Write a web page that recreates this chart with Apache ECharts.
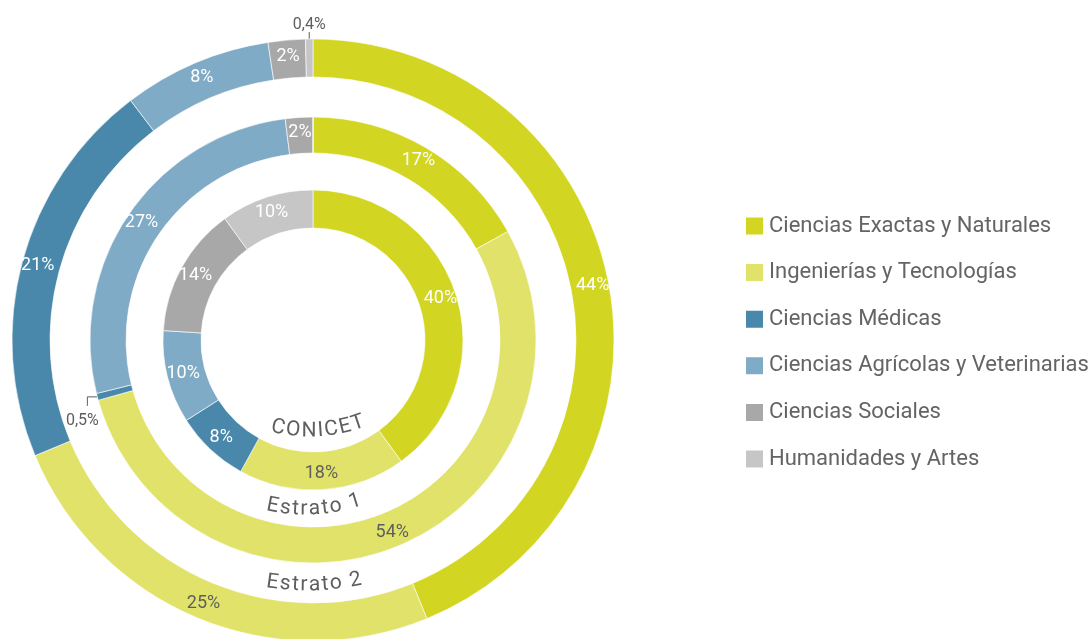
<!DOCTYPE html>
<html>
<head>
<meta charset="utf-8">
<script src="https://cdn.jsdelivr.net/npm/echarts@6/dist/echarts.min.js"></script>
<style>
  html,body{margin:0;padding:0;background:#fff;}
  #chart{width:1091px;height:639px;}
</style>
</head>
<body>
<div id="chart"></div>
<script>
(function(){
  // categorías y valores (%) de cada anillo
  const CATEGORIES = ['Ciencias Exactas y Naturales','Ingenierías y Tecnologías','Ciencias Médicas',
    'Ciencias Agrícolas y Veterinarias','Ciencias Sociales','Humanidades y Artes'];
  const CONICET   = [40, 18, 8, 10, 14, 10];
  const ESTRATO_1 = [17, 54, 0.5, 27, 2, 0];
  const ESTRATO_2 = [44, 25, 21, 8, 2, 0.4];
  const RING_NAMES = ['CONICET','Estrato 1','Estrato 2'];

  const COLORS = ['#d2d622','#e0e26a','#4a88ab','#80abc6','#a8a8a8','#c6c6c6'];
  const DARK = '#5e5e5e';
  const FONT = 'Roboto, "Noto Sans", sans-serif';
  const CX = 313, CY = 340;

  const fmtPct = v => String(v).replace('.', ',') + '%';

  function ring(name, values, radius){
    return {
      type:'pie', name, center:[CX, CY], radius, startAngle:90, clockwise:true,
      avoidLabelOverlap:false, silent:true,
      itemStyle:{borderColor:'#fff', borderWidth:0.6},
      label:{show:true, position:'inside', formatter:p=>fmtPct(p.value), color:'#fff', fontSize:18, fontFamily:FONT},
      labelLine:{show:false},
      data: values.map((v,i)=>{
        const d = {name:CATEGORIES[i], value:v, itemStyle:{color:COLORS[i]}};
        if(i===1) d.label = {color:DARK};
        if(v===0) d.label = {show:false};
        if(v>0 && v<1){
          d.label = {show:true, position:'outside', color:DARK, fontSize:16};
          d.labelLine = {show:true, length:8, length2:0, lineStyle:{color:DARK, width:1}};
        }
        return d;
      }),
      labelLayout: p=>{
        const v = values[p.dataIndex];
        if(!(v>0 && v<1) || !p.labelLinePoints) return {};
        const p0 = p.labelLinePoints[0];
        if(p0[1] < CY){ // arriba: línea vertical y texto encima
          return {x:p0[0], y:p0[1]-6, align:'center', verticalAlign:'bottom',
            labelLinePoints:[[p0[0], p0[1]+3], [p0[0], p0[1]-7], [p0[0], p0[1]-7]]};
        }
        return {x:p0[0]-15, y:p0[1]+16, align:'center', verticalAlign:'top',
          labelLinePoints:[p0, [p0[0]-10, p0[1]], [p0[0]-10, p0[1]+9]]};
      }
    };
  }

  // texto curvo: cada letra sobre un arco (dx,dy desde el centro, radio de curvatura, inclinación)
  const ARC_LABELS = [
    {text:RING_NAMES[0], dx:5, dy:91, R:150, tilt:3, size:21, gap:1.2},
    {text:RING_NAMES[1], dx:1, dy:169, R:170, tilt:3, size:21, gap:1.4},
    {text:RING_NAMES[2], dx:1, dy:245, R:250, tilt:1.5, size:21, gap:1.4}
  ];

  function arcText(l){
    const ctx = document.createElement('canvas').getContext('2d');
    ctx.font = `${l.size}px ${FONT}`;
    const chars = l.text.split('');
    const ws = chars.map(c=>ctx.measureText(c).width);
    const W = ws.reduce((a,b)=>a+b,0) + l.gap*(chars.length-1);
    const t0 = l.tilt*Math.PI/180;
    const mx = CX + l.dx, my = CY + l.dy;
    const ox = mx - l.R*Math.sin(t0), oy = my - l.R*Math.cos(t0);
    let s = -W/2;
    return chars.map((c,i)=>{
      const sc = s + ws[i]/2; s += ws[i] + l.gap;
      const t = t0 + sc/l.R;
      return {type:'text', x:ox + l.R*Math.sin(t), y:oy + l.R*Math.cos(t), rotation:t, silent:true,
        style:{text:c, fill:DARK, font:`${l.size}px ${FONT}`, textAlign:'center', textVerticalAlign:'middle'}};
    });
  }

  const chart = echarts.init(document.getElementById('chart'));
  chart.setOption({
    animation:false,
    color:COLORS,
    legend:{orient:'vertical', left:739, top:210, itemWidth:19, itemHeight:19, itemGap:24.6,
      icon:'rect', selectedMode:false, data:CATEGORIES,
      textStyle:{color:'#646464', fontSize:22, fontFamily:FONT, lineHeight:22}},
    series:[
      ring(RING_NAMES[0], CONICET, [112,150]),
      ring(RING_NAMES[1], ESTRATO_1, [187,223]),
      ring(RING_NAMES[2], ESTRATO_2, [263,301])
    ],
    graphic: ARC_LABELS.flatMap(arcText)
  });
})();
</script>
</body>
</html>
